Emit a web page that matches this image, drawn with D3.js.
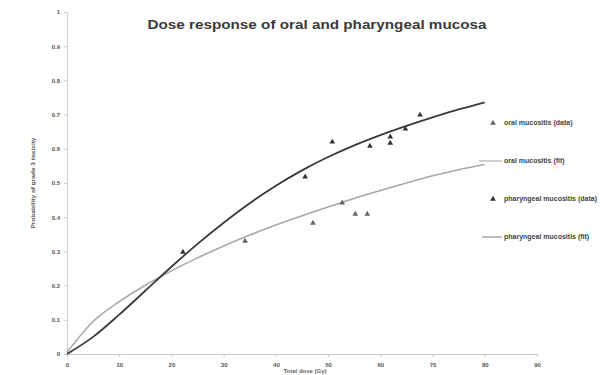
<!DOCTYPE html>
<html>
<head>
<meta charset="utf-8">
<script src="https://cdn.jsdelivr.net/npm/d3@7"></script>
<style>
  html, body { margin: 0; padding: 0; background: #fff; }
  svg { display: block; font-family: "Liberation Sans", Arial, sans-serif; }
</style>
</head>
<body>
<svg id="chart" width="613" height="375"></svg>
<script>
// Fitted dose-response curves, sampled every 5 Gy
const fitDose = [0, 5, 10, 15, 20, 25, 30, 35, 40, 45, 50, 55, 60, 65, 70, 75, 80];
const oralFit = [0.005, 0.095, 0.153, 0.201, 0.243, 0.281, 0.316, 0.348, 0.377, 0.404, 0.43, 0.455, 0.478, 0.5, 0.521, 0.539, 0.554];
const pharynxFit = [0.0, 0.05, 0.115, 0.185, 0.255, 0.322, 0.384, 0.441, 0.492, 0.537, 0.576, 0.61, 0.64, 0.667, 0.692, 0.715, 0.736];

// Observed complication rates
const oralDose = [34.1, 47.1, 52.7, 55.2, 57.5];
const oralProb = [0.33, 0.383, 0.442, 0.409, 0.409];
const pharynxDose = [22.2, 45.6, 50.8, 58.0, 61.9, 61.9, 64.8, 67.6];
const pharynxProb = [0.298, 0.518, 0.62, 0.608, 0.635, 0.617, 0.658, 0.699];

// Axis ticks and labels
const xTicks = [0, 10, 20, 30, 40, 50, 60, 70, 80, 90];
const yTicks = [0, 0.1, 0.2, 0.3, 0.4, 0.5, 0.6, 0.7, 0.8, 0.9, 1];
const legendLabels = ["oral mucositis (data)", "oral mucositis (fit)", "pharyngeal mucositis (data)", "pharyngeal mucositis (fit)"];
const titleText = "Dose response of oral and pharyngeal mucosa";
const xTitle = "Total dose (Gy)";
const yTitle = "Probability of grade 3 toxicity";

const svg = d3.select("#chart");
const x = d3.scaleLinear().domain([0, 90]).range([67, 537]);
const y = d3.scaleLinear().domain([0, 1]).range([354, 12]);

// Axes
const xAxis = d3.axisBottom(x).tickValues(xTicks).tickSize(3).tickFormat(d3.format("d"));
const gx = svg.append("g").attr("transform", `translate(0,${y(0)})`).call(xAxis);
gx.select(".domain").attr("stroke", "#c8c8c8");
gx.selectAll(".tick line").attr("stroke", "#c8c8c8");
gx.selectAll(".tick text").attr("fill", "#555").attr("font-size", 6).attr("font-weight", "bold").attr("dy", "1.1em");

const yAxis = d3.axisLeft(y).tickValues(yTicks).tickSize(3).tickFormat(d => d3.format("")(+d.toFixed(1)));
const gy = svg.append("g").attr("transform", `translate(${x(0)},0)`).call(yAxis);
gy.select(".domain").attr("stroke", "#d0d0d0");
gy.selectAll(".tick line").attr("stroke", "#d0d0d0");
gy.selectAll(".tick text").attr("fill", "#555").attr("font-size", 6).attr("font-weight", "bold").attr("x", -7);

// Titles
svg.append("text").attr("x", 317).attr("y", 29).attr("text-anchor", "middle")
  .attr("font-size", 13).attr("font-weight", "bold").attr("fill", "#3a3a3a")
  .attr("textLength", 339).attr("lengthAdjust", "spacingAndGlyphs").text(titleText);

svg.append("text").attr("transform", "translate(35,183) rotate(-90)").attr("text-anchor", "middle")
  .attr("font-size", 6).attr("font-weight", "bold").attr("fill", "#555")
  .attr("textLength", 91).attr("lengthAdjust", "spacingAndGlyphs").text(yTitle);

svg.append("text").attr("x", 305).attr("y", 373).attr("text-anchor", "middle")
  .attr("font-size", 6).attr("font-weight", "bold").attr("fill", "#666").text(xTitle);

// Fit curves
const line = d3.line().x(d => x(d[0])).y(d => y(d[1])).curve(d3.curveMonotoneX);
svg.append("path").datum(d3.zip(fitDose, oralFit)).attr("d", line)
  .attr("fill", "none").attr("stroke", "#a8a8a8").attr("stroke-width", 1.6);
svg.append("path").datum(d3.zip(fitDose, pharynxFit)).attr("d", line)
  .attr("fill", "none").attr("stroke", "#3a3a3a").attr("stroke-width", 1.8);

// Data markers
const tri = d3.symbol().type(d3.symbolTriangle).size(14);
svg.append("g").selectAll("path").data(d3.zip(oralDose, oralProb)).join("path")
  .attr("d", tri).attr("transform", d => `translate(${x(d[0])},${y(d[1])})`).attr("fill", "#666");
svg.append("g").selectAll("path").data(d3.zip(pharynxDose, pharynxProb)).join("path")
  .attr("d", tri).attr("transform", d => `translate(${x(d[0])},${y(d[1])})`).attr("fill", "#333");

// Legend
const legY = [123, 161, 199, 237];
const lg = svg.append("g");
lg.append("path").attr("d", tri).attr("transform", `translate(493,${legY[0]})`).attr("fill", "#666");
lg.append("line").attr("x1", 479).attr("x2", 502).attr("y1", legY[1]).attr("y2", legY[1]).attr("stroke", "#b8b8b8").attr("stroke-width", 1.4);
lg.append("path").attr("d", tri).attr("transform", `translate(493,${legY[2]})`).attr("fill", "#333");
lg.append("line").attr("x1", 482).attr("x2", 502).attr("y1", legY[3]).attr("y2", legY[3]).attr("stroke", "#a0a0a0").attr("stroke-width", 1.4);
legendLabels.forEach((t, i) => {
  lg.append("text").attr("x", 504).attr("y", legY[i]).attr("dy", "0.35em")
    .attr("font-size", 7).attr("font-weight", "bold").attr("fill", "#444").text(t);
});
</script>
</body>
</html>
